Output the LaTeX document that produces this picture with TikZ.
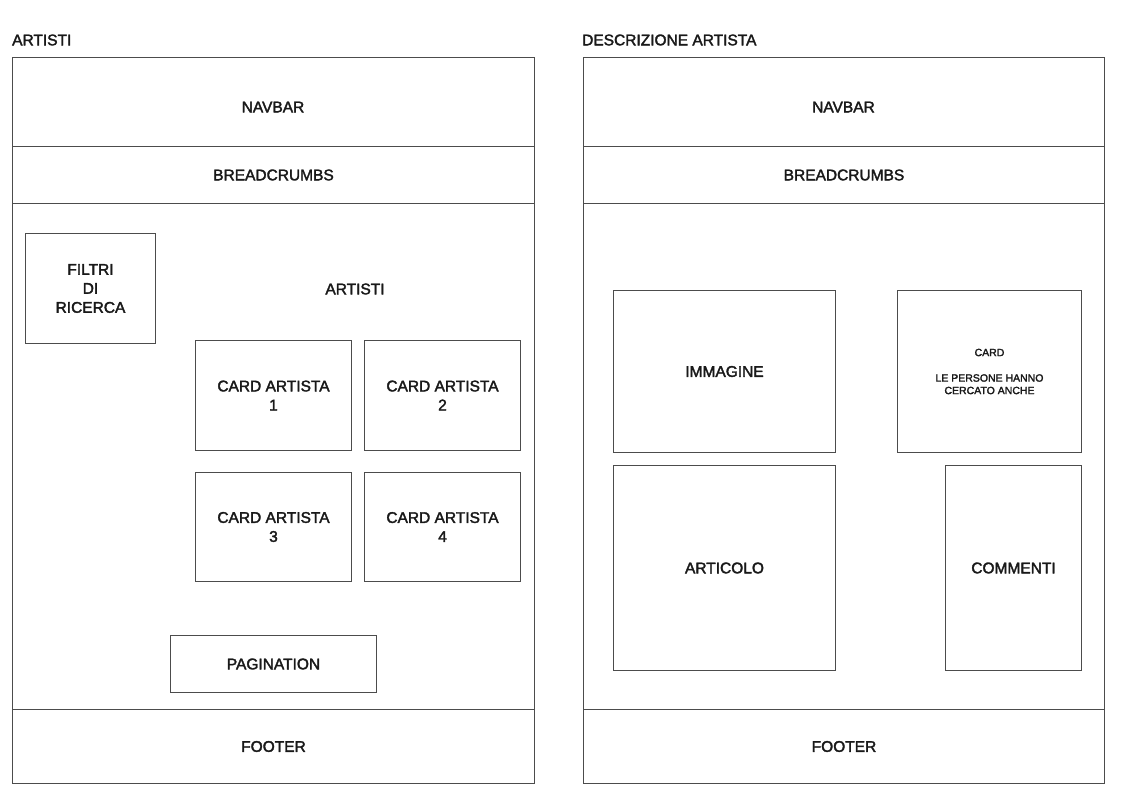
\documentclass[tikz,border=0pt]{standalone}
\usepackage{fontspec}
\setmainfont{Liberation Sans}[FakeBold=2.2]
\begin{document}
\begin{tikzpicture}[x=1pt,y=-1pt,
  box/.style={draw=black!70, line width=1pt, anchor=north west, inner sep=0pt,
    align=center, font=\fontsize{15.5}{19}\selectfont, text=black!90},
  ttl/.style={anchor=west, inner sep=0pt, font=\fontsize{15.5}{19}\selectfont, text=black!90},
  lbl/.style={inner sep=0pt, align=center, font=\fontsize{15.5}{19}\selectfont, text=black!90}]
\useasboundingbox (0,0) rectangle (1125,806);
\fill[white] (0,0) rectangle (1125,806);
% ---------- left panel ----------
\node[ttl] (t1) at (12,40) {ARTISTI};
\node[box, minimum width=522, minimum height=726] (p1) at (12,57) {};
\node[box, minimum width=522, minimum height=89] (nav1) at (12,57) {};
\node[lbl] (navt1) at (273,107) {NAVBAR};
\node[box, minimum width=522, minimum height=57] (bc1) at (12,146) {BREADCRUMBS};
\node[box, minimum width=522, minimum height=74] (ft1) at (12,709) {FOOTER};
\node[box, minimum width=130, minimum height=110] (filtri) at (25,233) {FILTRI\\DI\\RICERCA};
\node[lbl] (art) at (355,289) {ARTISTI};
\node[box, minimum width=156, minimum height=110] (c1) at (195,340) {CARD ARTISTA\\1};
\node[box, minimum width=156, minimum height=110] (c2) at (364,340) {CARD ARTISTA\\2};
\node[box, minimum width=156, minimum height=109] (c3) at (195,472) {CARD ARTISTA\\3};
\node[box, minimum width=156, minimum height=109] (c4) at (364,472) {CARD ARTISTA\\4};
\node[box, minimum width=206, minimum height=57] (pag) at (170,635) {PAGINATION};
% ---------- right panel ----------
\node[ttl] (t2) at (582,40) {DESCRIZIONE ARTISTA};
\node[box, minimum width=521, minimum height=726] (p2) at (583,57) {};
\node[box, minimum width=521, minimum height=89] (nav2) at (583,57) {};
\node[lbl] (navt2) at (843.5,107) {NAVBAR};
\node[box, minimum width=521, minimum height=57] (bc2) at (583,146) {BREADCRUMBS};
\node[box, minimum width=521, minimum height=74] (ft2) at (583,709) {FOOTER};
\node[box, minimum width=222, minimum height=162] (img) at (613,290) {IMMAGINE};
\node[box, minimum width=184, minimum height=162, font=\fontsize{10.5}{12.5}\selectfont] (card) at (897,290) {CARD\\[13pt]LE PERSONE HANNO\\CERCATO ANCHE};
\node[box, minimum width=222, minimum height=205] (arti) at (613,465) {ARTICOLO};
\node[box, minimum width=136, minimum height=205] (comm) at (945,465) {COMMENTI};
\end{tikzpicture}
\end{document}
